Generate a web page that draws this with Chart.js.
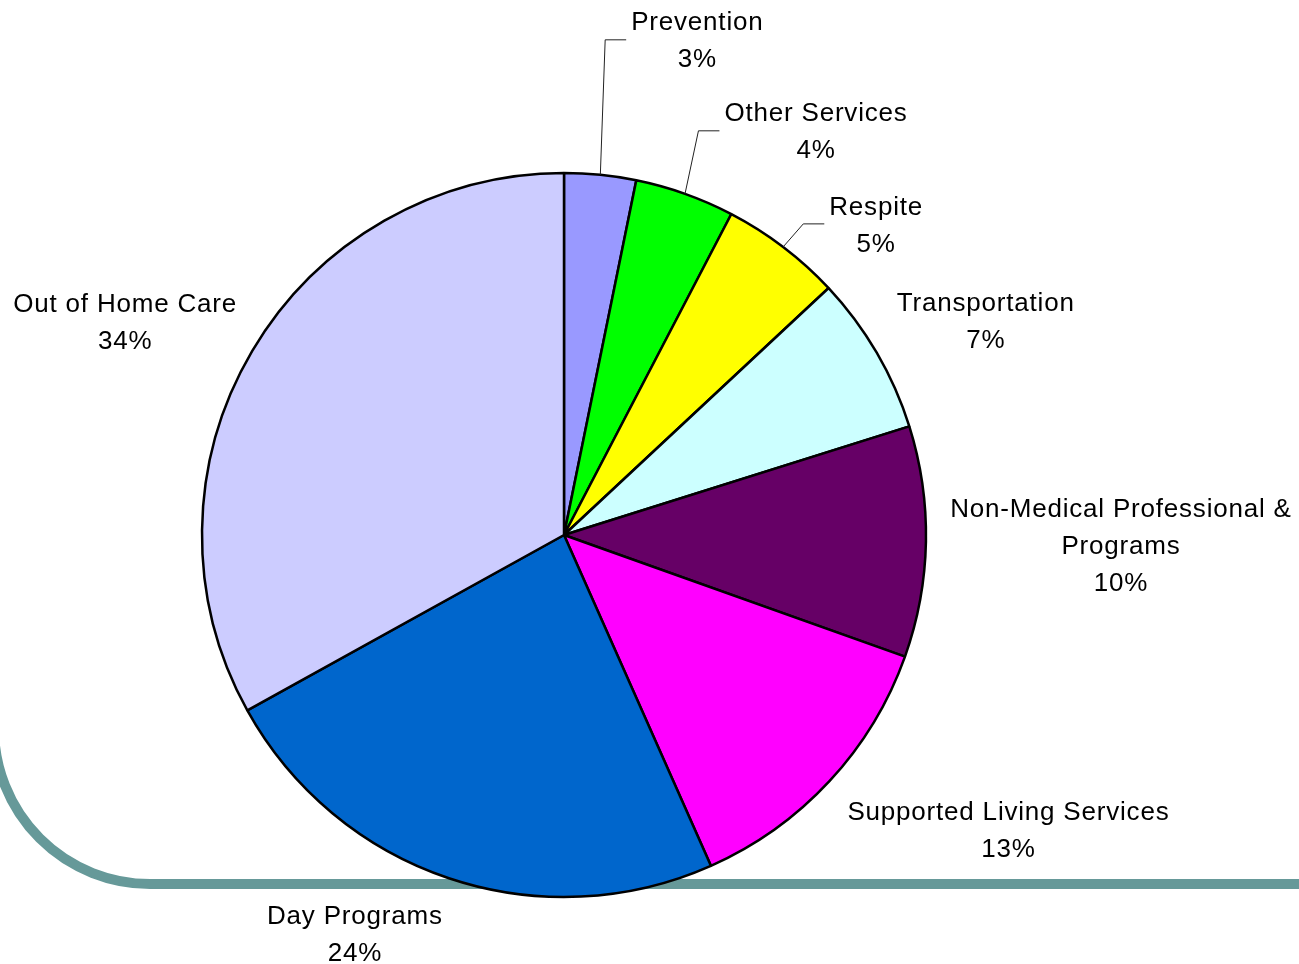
<!DOCTYPE html>
<html>
<head>
<meta charset="utf-8">
<script src="https://cdn.jsdelivr.net/npm/chart.js@4.4.0/dist/chart.umd.min.js"></script>
<style>
  html, body { margin: 0; padding: 0; background: #fff; }
  #wrap { width: 1299px; height: 964px; position: relative; }
</style>
</head>
<body>
<div id="wrap"><canvas id="pie" width="1299" height="964"></canvas></div>
<script>
// slices, clockwise from 12 o'clock
const categories = ['Prevention', 'Other Services', 'Respite', 'Transportation',
  'Non-Medical Professional & Programs', 'Supported Living Services', 'Day Programs', 'Out of Home Care'];
const shares = [3.2, 4.45, 5.4, 7.1, 10.3, 12.9, 23.6, 33.05];
const pctLabels = ['3%', '4%', '5%', '7%', '10%', '13%', '24%', '34%'];
const labelLines = [
  ['Prevention'], ['Other Services'], ['Respite'], ['Transportation'],
  ['Non-Medical Professional &', 'Programs'], ['Supported Living Services'],
  ['Day Programs'], ['Out of Home Care']
];
const sliceColors = ['#9999FF', '#00FF00', '#FFFF00', '#CCFFFF', '#660066', '#FF00FF', '#0066CC', '#CCCCFF'];

// label offsets from the outer midpoint of each slice (layout only)
const labelOffsets = [[97, -133], [131, -61], [93, -21], [109, -30], [195, 5], [179, 50], [-94, 57], [-127, -28]];
const hasLeader = [true, true, true, false, false, false, false, false];

const FONT = '26px "Liberation Sans", Arial, sans-serif';
const LINE_H = 37;

// decorative slide frame behind the pie
const frame = {
  id: 'frame',
  beforeDraw(chart) {
    const ctx = chart.ctx;
    ctx.save();
    ctx.strokeStyle = '#669999';
    ctx.lineWidth = 10;
    ctx.beginPath();
    ctx.moveTo(-6, 600);
    ctx.lineTo(-6, 728);
    ctx.arc(150, 728, 156, Math.PI, Math.PI / 2, true);
    ctx.lineTo(1310, 884);
    ctx.stroke();
    ctx.restore();
  }
};

const outsideLabels = {
  id: 'outsideLabels',
  afterDatasetsDraw(chart) {
    const ctx = chart.ctx;
    const arcs = chart.getDatasetMeta(0).data;
    ctx.save();
    ctx.font = FONT;
    ctx.letterSpacing = '0.8px';
    ctx.fillStyle = '#000';
    ctx.textAlign = 'center';
    ctx.textBaseline = 'middle';
    arcs.forEach((arc, i) => {
      const { x, y, startAngle, endAngle, outerRadius } = arc.getProps(['x', 'y', 'startAngle', 'endAngle', 'outerRadius'], true);
      const mid = (startAngle + endAngle) / 2;
      const ex = x + Math.cos(mid) * outerRadius;
      const ey = y + Math.sin(mid) * outerRadius;
      const cx = ex + labelOffsets[i][0];
      const cy = ey + labelOffsets[i][1];
      const lines = labelLines[i].concat([pctLabels[i]]);
      const top = cy - (lines.length - 1) * LINE_H / 2;
      let w = 0;
      lines.forEach((t, k) => {
        ctx.fillText(t, cx, top + k * LINE_H);
        w = Math.max(w, ctx.measureText(t).width);
      });
      if (hasLeader[i]) {
        const left = cx - w / 2;
        ctx.strokeStyle = '#222';
        ctx.lineWidth = 1;
        ctx.beginPath();
        ctx.moveTo(ex, ey);
        ctx.lineTo(left - 26, cy - 2);
        ctx.lineTo(left - 5, cy - 2);
        ctx.stroke();
      }
    });
    ctx.restore();
  }
};

new Chart(document.getElementById('pie'), {
  type: 'pie',
  data: {
    labels: categories,
    datasets: [{
      data: shares,
      backgroundColor: sliceColors,
      borderColor: '#000',
      borderWidth: 2.5
    }]
  },
  options: {
    responsive: false,
    animation: false,
    radius: 362,
    layout: { padding: { left: 0, right: 171, top: 106, bottom: 0 } },
    plugins: { legend: { display: false }, tooltip: { enabled: false } }
  },
  plugins: [frame, outsideLabels]
});
</script>
</body>
</html>
